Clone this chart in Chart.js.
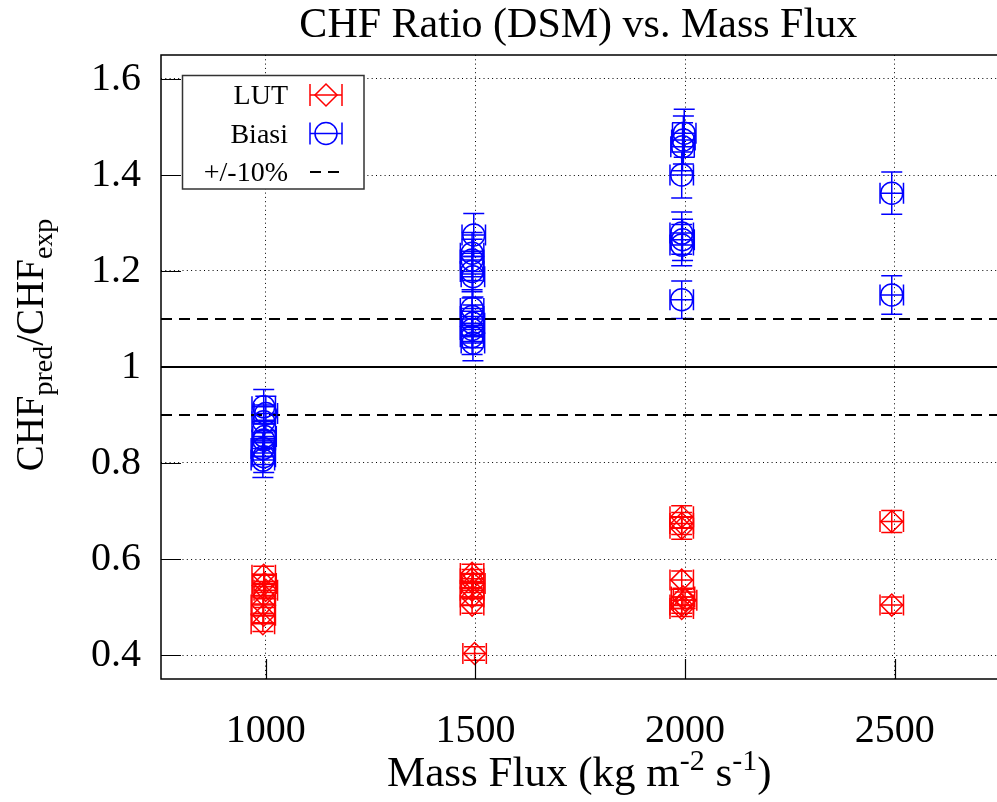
<!DOCTYPE html>
<html>
<head>
<meta charset="utf-8">
<script src="https://cdn.jsdelivr.net/npm/chart.js@4.4.1/dist/chart.umd.min.js"></script>
<style>
  html, body { margin: 0; padding: 0; background: #fff; overflow: hidden; }
  canvas { display: block; }
</style>
</head>
<body>
<canvas id="chfChart" width="1012" height="802"></canvas>
<script>
// Eksen değerleri
const massFluxTicks = [1000, 1500, 2000, 2500];
const ratioTicks = [0.4, 0.6, 0.8, 1.0, 1.2, 1.4, 1.6];
const massFluxRange = [750, 2750];
const ratioRange = [0.35, 1.65];

// LUT noktaları
const lutMassFlux = [995, 997, 1000, 995, 993, 995, 993,
                     1492, 1492, 1495, 1492, 1492, 1492, 1498,
                     1992, 1992, 1992, 1992, 1995, 2000, 1992, 1992,
                     2493, 2493];
const lutRatio = [0.566, 0.549, 0.535, 0.524, 0.504, 0.483, 0.465,
                  0.570, 0.559, 0.549, 0.535, 0.521, 0.504, 0.403,
                  0.688, 0.674, 0.664, 0.556, 0.521, 0.514, 0.504, 0.497,
                  0.678, 0.504];
const lutErr = [0.019, 0.019, 0.018, 0.018, 0.017, 0.016, 0.016,
                0.019, 0.019, 0.019, 0.018, 0.018, 0.017, 0.014,
                0.023, 0.023, 0.023, 0.019, 0.018, 0.017, 0.017, 0.017,
                0.023, 0.017];

// Biasi noktaları
const biasiMassFlux = [995, 1000, 995, 997, 995, 993, 995, 993,
                       1496, 1492, 1492, 1492, 1494, 1492, 1492, 1494, 1492, 1492, 1494,
                       1998, 1996, 1994, 1992, 1992, 1994, 1992, 1992,
                       2493, 2493];
const biasiRatio = [0.917, 0.903, 0.886, 0.855, 0.848, 0.830, 0.813, 0.806,
                    1.275, 1.237, 1.223, 1.199, 1.188, 1.122, 1.105, 1.091, 1.078, 1.063, 1.050,
                    1.487, 1.473, 1.459, 1.400, 1.279, 1.265, 1.254, 1.140,
                    1.362, 1.150];
const biasiErr = [0.036, 0.036, 0.035, 0.034, 0.034, 0.033, 0.033, 0.036,
                  0.045, 0.043, 0.043, 0.042, 0.042, 0.039, 0.039, 0.038, 0.038, 0.037, 0.037,
                  0.050, 0.050, 0.050, 0.048, 0.044, 0.043, 0.043, 0.039,
                  0.044, 0.040];

const massFluxErr = 28;          // kütle akısı belirsizliği (kg m-2 s-1)
const bandLimits = [0.9, 1.1];   // +/-10% bandı

const RED = '#ff0000';
const BLUE = '#0000ff';
const SERIF = "'Liberation Serif', 'Times New Roman', serif";

function toPoints(xs, ys, errs) {
  return xs.map((x, i) => ({ x: x, y: ys[i], dx: massFluxErr, dy: errs[i] }));
}

// Alt/üst simgeli metin parçalarını sırayla yaz
function drawRuns(ctx, runs, cx, baseY) {
  let total = 0;
  runs.forEach(r => { ctx.font = r.size + 'px ' + SERIF; r.w = ctx.measureText(r.text).width; total += r.w; });
  let x = cx - total / 2;
  ctx.textAlign = 'left';
  ctx.textBaseline = 'alphabetic';
  runs.forEach(r => {
    ctx.font = r.size + 'px ' + SERIF;
    ctx.fillText(r.text, x, baseY + (r.dy || 0));
    x += r.w;
  });
}

function drawErrorSymbol(ctx, cx, cy, half, cap) {
  ctx.beginPath();
  ctx.moveTo(cx - half, cy); ctx.lineTo(cx + half, cy);
  ctx.moveTo(cx - half, cy - cap); ctx.lineTo(cx - half, cy + cap);
  ctx.moveTo(cx + half, cy - cap); ctx.lineTo(cx + half, cy + cap);
  ctx.stroke();
}

const decorPlugin = {
  id: 'chfDecor',
  beforeDatasetsDraw(chart) {
    const { ctx, chartArea: a, scales: { x, y } } = chart;
    ctx.save();
    ctx.beginPath();
    ctx.rect(a.left, a.top, a.right - a.left, a.bottom - a.top);
    ctx.clip();
    const cap = 10.5;
    chart.data.datasets.forEach(ds => {
      if (!ds.errorBars) return;
      ctx.strokeStyle = ds.pointBorderColor;
      ctx.lineWidth = 1.5;
      ds.data.forEach(p => {
        const px = x.getPixelForValue(p.x), py = y.getPixelForValue(p.y);
        const x0 = x.getPixelForValue(p.x - p.dx), x1 = x.getPixelForValue(p.x + p.dx);
        const y0 = y.getPixelForValue(p.y - p.dy), y1 = y.getPixelForValue(p.y + p.dy);
        ctx.beginPath();
        ctx.moveTo(x0, py); ctx.lineTo(x1, py);
        ctx.moveTo(x0, py - cap); ctx.lineTo(x0, py + cap);
        ctx.moveTo(x1, py - cap); ctx.lineTo(x1, py + cap);
        ctx.moveTo(px, y0); ctx.lineTo(px, y1);
        ctx.moveTo(px - cap, y0); ctx.lineTo(px + cap, y0);
        ctx.moveTo(px - cap, y1); ctx.lineTo(px + cap, y1);
        ctx.stroke();
      });
    });
    ctx.restore();
  },
  afterDraw(chart) {
    const { ctx, chartArea: a, scales: { x, y } } = chart;
    ctx.save();
    ctx.fillStyle = '#000';
    ctx.strokeStyle = '#000';

    // İçe dönük tikler
    ctx.lineWidth = 1.2;
    ctx.beginPath();
    massFluxTicks.forEach(v => {
      const px = Math.round(x.getPixelForValue(v)) + 0.5;
      ctx.moveTo(px, a.bottom); ctx.lineTo(px, a.bottom - 20);
    });
    ratioTicks.forEach(v => {
      const py = Math.round(y.getPixelForValue(v)) + 0.5;
      ctx.moveTo(a.left, py); ctx.lineTo(a.left + 20, py);
    });
    ctx.stroke();

    // Çerçeve
    ctx.lineWidth = 1.5;
    ctx.strokeRect(a.left, a.top, a.right - a.left, a.bottom - a.top);

    // Başlık
    const midX = (a.left + a.right) / 2;
    drawRuns(ctx, [{ text: 'CHF Ratio (DSM) vs. Mass Flux', size: 42 }], midX - 2, 37);

    // X ekseni başlığı
    drawRuns(ctx, [
      { text: 'Mass Flux (kg m', size: 43 },
      { text: '-2', size: 30, dy: -16 },
      { text: ' s', size: 43 },
      { text: '-1', size: 30, dy: -16 },
      { text: ')', size: 43 }
    ], midX - 1, 786);

    // Y ekseni başlığı
    ctx.save();
    ctx.translate(43, 345);
    ctx.rotate(-Math.PI / 2);
    drawRuns(ctx, [
      { text: 'CHF', size: 39 },
      { text: 'pred', size: 28, dy: 9 },
      { text: '/CHF', size: 39 },
      { text: 'exp', size: 28, dy: 9 }
    ], 0, 0);
    ctx.restore();

    // Açıklama kutusu
    const lx = 182.5, ly = 75.5, lw = 181.5, lh = 113.5;
    ctx.fillStyle = '#fff';
    ctx.fillRect(lx, ly, lw, lh);
    ctx.strokeStyle = '#333';
    ctx.lineWidth = 1.5;
    ctx.strokeRect(lx, ly, lw, lh);

    ctx.fillStyle = '#000';
    ctx.font = '28px ' + SERIF;
    ctx.textAlign = 'right';
    ctx.textBaseline = 'alphabetic';
    ctx.fillText('LUT', 288, 104);
    ctx.fillText('Biasi', 288, 143);
    ctx.fillText('+/-10%', 288, 181);

    const sx = 326;
    ctx.lineWidth = 1.5;
    // LUT sembolü
    ctx.strokeStyle = RED;
    drawErrorSymbol(ctx, sx, 95, 16, 11);
    ctx.beginPath();
    ctx.moveTo(sx, 95 - 11); ctx.lineTo(sx + 11, 95); ctx.lineTo(sx, 95 + 11); ctx.lineTo(sx - 11, 95); ctx.closePath();
    ctx.stroke();
    // Biasi sembolü
    ctx.strokeStyle = BLUE;
    drawErrorSymbol(ctx, sx, 133.5, 16, 11);
    ctx.beginPath();
    ctx.arc(sx, 133.5, 11, 0, Math.PI * 2);
    ctx.stroke();
    // Kesikli çizgi
    ctx.strokeStyle = '#000';
    ctx.lineWidth = 2;
    ctx.setLineDash([11, 7]);
    ctx.beginPath();
    ctx.moveTo(310, 172); ctx.lineTo(342, 172);
    ctx.stroke();
    ctx.setLineDash([]);

    ctx.restore();
  }
};

Chart.defaults.font.family = SERIF;
Chart.defaults.color = '#000';

const ctx = document.getElementById('chfChart').getContext('2d');

new Chart(ctx, {
  type: 'scatter',
  data: {
    datasets: [
      {
        label: 'LUT',
        data: toPoints(lutMassFlux, lutRatio, lutErr),
        errorBars: true,
        pointStyle: 'rectRot',
        pointRadius: 11,
        pointBorderWidth: 1.5,
        pointBorderColor: RED,
        pointBackgroundColor: 'rgba(0,0,0,0)',
        showLine: false
      },
      {
        label: 'Biasi',
        data: toPoints(biasiMassFlux, biasiRatio, biasiErr),
        errorBars: true,
        pointStyle: 'circle',
        pointRadius: 11,
        pointBorderWidth: 1.5,
        pointBorderColor: BLUE,
        pointBackgroundColor: 'rgba(0,0,0,0)',
        showLine: false
      },
      {
        label: 'ideal',
        data: massFluxRange.map(v => ({ x: v, y: 1.0 })),
        showLine: true,
        borderColor: '#000',
        borderWidth: 2,
        pointRadius: 0
      },
      ...bandLimits.map(b => ({
        label: '+/-10%',
        data: massFluxRange.map(v => ({ x: v, y: b })),
        showLine: true,
        borderColor: '#000',
        borderWidth: 2,
        borderDash: [11, 7],
        pointRadius: 0
      }))
    ]
  },
  options: {
    responsive: false,
    animation: false,
    devicePixelRatio: 1,
    layout: { padding: { top: 55, right: 6, left: 0, bottom: 0 } },
    plugins: {
      legend: { display: false },
      title: { display: false },
      tooltip: { enabled: false }
    },
    scales: {
      x: {
        type: 'linear',
        min: massFluxRange[0],
        max: massFluxRange[1],
        afterBuildTicks: s => { s.ticks = massFluxTicks.map(v => ({ value: v })); },
        afterFit: s => { s.height = 123; },
        grid: { color: '#000', lineWidth: 1, drawTicks: false },
        border: { display: false, dash: [1, 3.3] },
        ticks: {
          padding: 32,
          maxRotation: 0,
          font: { size: 40, lineHeight: 1 },
          callback: v => String(v)
        }
      },
      y: {
        min: ratioRange[0],
        max: ratioRange[1],
        afterBuildTicks: s => { s.ticks = ratioTicks.map(v => ({ value: v })); },
        afterFit: s => { s.width = 161; },
        grid: { color: '#000', lineWidth: 1, drawTicks: false },
        border: { display: false, dash: [1, 3.3] },
        ticks: {
          padding: 20,
          font: { size: 40, lineHeight: 1 },
          callback: v => (v === 1 ? '1' : v.toFixed(1))
        }
      }
    }
  },
  plugins: [decorPlugin]
});
</script>
</body>
</html>
